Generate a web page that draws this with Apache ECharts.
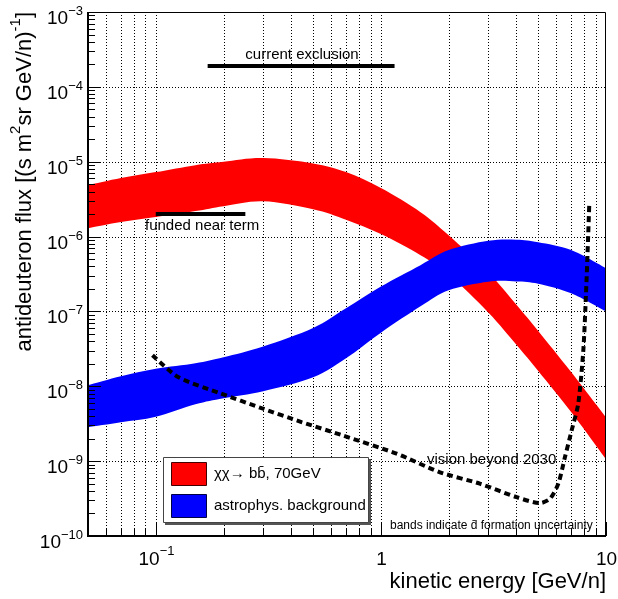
<!DOCTYPE html>
<html><head><meta charset="utf-8">
<script src="https://cdn.jsdelivr.net/npm/echarts@6/dist/echarts.min.js"></script>
<style>html,body{margin:0;padding:0;background:#fff}#c{width:618px;height:599px}</style>
</head><body><div id="c"></div>
<script>
// ---------------- data ----------------
const energies    = [0.05, 0.07, 0.1, 0.15, 0.2, 0.3, 0.5, 0.7, 1, 1.5, 2, 3, 4, 5, 7, 10];
const signalUpper = [4.86e-6, 6.04e-6, 7.26e-6, 9.0e-6, 1.0e-5, 1.12e-5, 9.5e-6, 7.26e-6, 4.44e-6, 2.12e-6, 1.04e-6, 3.32e-7, 1.23e-7, 5.48e-8, 1.55e-8, 3.85e-9];
const signalLower = [1.29e-6, 1.56e-6, 1.82e-6, 2.19e-6, 2.55e-6, 2.97e-6, 2.32e-6, 1.68e-6, 1.08e-6, 5.64e-7, 3.14e-7, 9.7e-8, 3.59e-8, 1.6e-8, 4.52e-9, 1.06e-9];
const bgUpper     = [1.03e-8, 1.36e-8, 1.71e-8, 2.03e-8, 2.44e-8, 3.4e-8, 6.0e-8, 1.1e-7, 2.15e-7, 4.15e-7, 6.6e-7, 8.8e-7, 9.1e-7, 8.4e-7, 6.6e-7, 3.78e-7];
const bgLower     = [2.83e-9, 3.3e-9, 3.91e-9, 5.74e-9, 6.92e-9, 8.6e-9, 1.32e-8, 2.37e-8, 5.2e-8, 1.17e-7, 1.92e-7, 2.5e-7, 2.52e-7, 2.35e-7, 1.75e-7, 1.0e-7];
const visionE     = [0.0967, 0.1256, 0.1925, 0.295, 0.444, 0.678, 1.174, 1.83, 2.75, 4.01, 5.09, 5.64, 6.14, 6.57, 7.04, 7.53, 7.93, 8.15, 8.32, 8.43];
const visionFlux  = [2.6e-8, 1.33e-8, 8.1e-9, 5.1e-9, 3.33e-9, 2.2e-9, 1.26e-9, 7.1e-10, 5.0e-10, 3.3e-10, 2.75e-10, 3.15e-10, 5.0e-10, 1.13e-9, 2.58e-9, 5.9e-9, 3.03e-8, 1.73e-7, 8.95e-7, 2.77e-6];
const exclusionE    = [0.17, 1.15];
const exclusionFlux = [1.9e-4, 1.9e-4];
const nearTermE     = [0.1, 0.25];
const nearTermFlux  = [2.0e-6, 2.0e-6];
const xDecades   = [0.01, 0.1, 1, 10];
const xMajorTicks = [0.1, 1, 10];
const xTickBase  = ['10', '1', '10'];
const xTickExp   = ['\u22121', '', ''];
const yMajorTicks = [1e-10, 1e-9, 1e-8, 1e-7, 1e-6, 1e-5, 1e-4, 1e-3];
const yTickBase  = ['10', '10', '10', '10', '10', '10', '10', '10'];
const yTickExp   = ['\u221210', '\u22129', '\u22128', '\u22127', '\u22126', '\u22125', '\u22124', '\u22123'];
const minorMult  = [2, 3, 4, 5, 6, 7, 8, 9];
// --------------------------------------

const FONT = '"Liberation Sans", Arial, Helvetica, sans-serif';
const xMin = 0.05, xMax = 10, yMin = 1e-10, yMax = 1e-3;

const xMinor = [];
xDecades.forEach(d => minorMult.forEach(m => { const v = m * d; if (v > xMin * 1.0001 && v < xMax * 0.9999) xMinor.push(v); }));
const yMinor = [];
yMajorTicks.forEach(d => minorMult.forEach(m => { const v = m * d; if (v > yMin && v < yMax * 0.9999) yMinor.push(v); }));

function crPath(pts, start) {
  let d = start ? 'M' + pts[0][0] + ' ' + pts[0][1] : 'L' + pts[0][0] + ' ' + pts[0][1];
  for (let i = 0; i < pts.length - 1; i++) {
    const p0 = pts[i - 1] || pts[i], p1 = pts[i], p2 = pts[i + 1], p3 = pts[i + 2] || p2;
    const c1 = [p1[0] + (p2[0] - p0[0]) / 6, p1[1] + (p2[1] - p0[1]) / 6];
    const c2 = [p2[0] - (p3[0] - p1[0]) / 6, p2[1] - (p3[1] - p1[1]) / 6];
    d += 'C' + c1[0] + ' ' + c1[1] + ' ' + c2[0] + ' ' + c2[1] + ' ' + p2[0] + ' ' + p2[1];
  }
  return d;
}

function band(name, upper, lower, color, z) {
  return {
    type: 'custom', name, z, silent: true, clip: true,
    data: [[1, 1e-6]],
    renderItem: (params, api) => {
      const top = energies.map((e, i) => api.coord([e, upper[i]]));
      const bot = energies.map((e, i) => api.coord([e, lower[i]])).reverse();
      return { type: 'path', shape: { pathData: crPath(top, true) + crPath(bot, false) + 'Z' },
               style: { fill: color, stroke: null } };
    }
  };
}

const richTick = {
  b: { fontSize: 19, fontFamily: FONT, lineHeight: 24, verticalAlign: 'bottom', fill: '#000' },
  s: { fontSize: 13, fontFamily: FONT, lineHeight: 13, verticalAlign: 'top', fill: '#000' }
};
function tickText(base, exp) { return exp ? '{b|' + base + '}{s|' + exp + '}' : '{b|' + base + '}'; }

const chart = echarts.init(document.getElementById('c'), null, { renderer: 'canvas' });
chart.setOption({
  animation: false,
  backgroundColor: '#fff',
  grid: { left: 88, top: 12, width: 518, height: 524, containLabel: false },
  xAxis: { type: 'log', logBase: 10, min: xMin, max: xMax,
    axisLine: { show: false }, axisTick: { show: false }, axisLabel: { show: false }, splitLine: { show: false } },
  yAxis: { type: 'log', logBase: 10, min: yMin, max: yMax,
    axisLine: { show: false }, axisTick: { show: false }, axisLabel: { show: false }, splitLine: { show: false } },
  series: [
    { // grid lines
      type: 'custom', z: 0, silent: true, data: [[1, 1e-6]],
      renderItem: (params, api) => {
        const lb = api.coord([xMin, yMin]), rt = api.coord([xMax, yMax]);
        const L = lb[0], B = lb[1], R = rt[0], T = rt[1];
        const ch = [];
        const st = { stroke: '#000', lineWidth: 1, lineDash: [1, 2] };
        xMinor.concat([0.1, 1]).forEach(v => {
          const x = Math.round(api.coord([v, yMin])[0]) + 0.5;
          ch.push({ type: 'line', shape: { x1: x, y1: T, x2: x, y2: B }, style: st });
        });
        yMajorTicks.slice(1, -1).forEach(v => {
          const y = Math.round(api.coord([xMin, v])[1]) + 0.5;
          ch.push({ type: 'line', shape: { x1: L, y1: y, x2: R, y2: y }, style: st });
        });
        return { type: 'group', children: ch };
      }
    },
    band('signal', signalUpper, signalLower, '#ff0000', 2),
    band('background', bgUpper, bgLower, '#0000ff', 3),
    { type: 'line', name: 'vision', z: 4, silent: true, symbol: 'none', smooth: 0.25,
      data: visionE.map((e, i) => [e, visionFlux[i]]),
      lineStyle: { color: '#000', width: 4, type: [6, 4], cap: 'butt' } },
    { type: 'line', name: 'exclusion', z: 4, silent: true, symbol: 'none',
      data: exclusionE.map((e, i) => [e, exclusionFlux[i]]),
      lineStyle: { color: '#000', width: 4, cap: 'butt' } },
    { type: 'line', name: 'nearterm', z: 4, silent: true, symbol: 'none',
      data: nearTermE.map((e, i) => [e, nearTermFlux[i]]),
      lineStyle: { color: '#000', width: 4, cap: 'butt' } },
    { // frame, ticks, tick labels
      type: 'custom', z: 10, silent: true, data: [[1, 1e-6]],
      renderItem: (params, api) => {
        const lb = api.coord([xMin, yMin]), rt = api.coord([xMax, yMax]);
        const L = lb[0], B = lb[1], R = rt[0], T = rt[1];
        const ch = [];
        ch.push({ type: 'rect', shape: { x: L + 0.5, y: T + 0.5, width: R - L - 1, height: B - T - 1 },
                  style: { fill: null, stroke: '#000', lineWidth: 1 } });
        ch.push({ type: 'line', shape: { x1: L, y1: T, x2: L, y2: B + 1 }, style: { stroke: '#000', lineWidth: 2 } });
        ch.push({ type: 'line', shape: { x1: L - 1, y1: B, x2: R, y2: B }, style: { stroke: '#000', lineWidth: 2 } });
        const tk = { stroke: '#000', lineWidth: 1 };
        yMinor.forEach(v => { const y = Math.round(api.coord([xMin, v])[1]) + 0.5;
          ch.push({ type: 'line', shape: { x1: L, y1: y, x2: L + 7, y2: y }, style: tk }); });
        yMajorTicks.forEach((v, i) => { const y = Math.round(api.coord([xMin, v])[1]) + 0.5;
          ch.push({ type: 'line', shape: { x1: L, y1: y, x2: L + 13, y2: y }, style: tk });
          ch.push({ type: 'text', x: L - 5, y: y + 4,
            style: { text: tickText(yTickBase[i], yTickExp[i]), rich: richTick, align: 'right', verticalAlign: 'middle' } }); });
        xMinor.forEach(v => { const x = Math.round(api.coord([v, yMin])[0]) + 0.5;
          ch.push({ type: 'line', shape: { x1: x, y1: B, x2: x, y2: B - 7 }, style: tk }); });
        xMajorTicks.forEach((v, i) => { const x = Math.round(api.coord([v, yMin])[0]) + 0.5;
          ch.push({ type: 'line', shape: { x1: x, y1: B, x2: x, y2: B - 14 }, style: tk });
          ch.push({ type: 'text', x: x, y: B + 9,
            style: { text: tickText(xTickBase[i], xTickExp[i]), rich: richTick, align: 'center', verticalAlign: 'top' } }); });
        return { type: 'group', children: ch };
      }
    }
  ],
  graphic: [
    { type: 'text', z: 100, x: 22, y: 12, rotation: Math.PI / 2,
      style: { text: '{m|antideuteron flux [(s m}{s|2}{m|sr GeV/n)}{s|-1}{m|]}',
        rich: { m: { fontSize: 22, fontFamily: FONT, lineHeight: 28, verticalAlign: 'bottom', fill: '#000' },
                s: { fontSize: 15, fontFamily: FONT, lineHeight: 15, verticalAlign: 'top', fill: '#000' } },
        align: 'right', verticalAlign: 'middle' } },
    { type: 'text', z: 100, x: 606, y: 582,
      style: { text: 'kinetic energy [GeV/n]', fontSize: 22, fontFamily: FONT, fill: '#000', align: 'right', verticalAlign: 'middle' } },
    { type: 'text', z: 100, x: 302, y: 55,
      style: { text: 'current exclusion', fontSize: 15, fontFamily: FONT, fill: '#000', align: 'center', verticalAlign: 'middle' } },
    { type: 'text', z: 100, x: 145, y: 226,
      style: { text: 'funded near term', fontSize: 15, fontFamily: FONT, fill: '#000', align: 'left', verticalAlign: 'middle' } },
    { type: 'text', z: 100, x: 427, y: 460,
      style: { text: 'vision beyond 2030', fontSize: 15, fontFamily: FONT, fill: '#000', align: 'left', verticalAlign: 'middle' } },
    { type: 'text', z: 100, x: 390, y: 526,
      style: { text: 'bands indicate d\u0304 formation uncertainty', fontSize: 12, fontFamily: FONT, fill: '#000', align: 'left', verticalAlign: 'middle' } },
    // legend
    { type: 'rect', z: 100, shape: { x: 165, y: 459, width: 206, height: 66 }, style: { fill: '#555' } },
    { type: 'rect', z: 101, shape: { x: 163.5, y: 457.5, width: 205, height: 65 }, style: { fill: '#fff', stroke: '#444', lineWidth: 1 } },
    { type: 'rect', z: 102, shape: { x: 171.5, y: 462.5, width: 35, height: 23 }, style: { fill: '#ff0000', stroke: '#400', lineWidth: 1 } },
    { type: 'rect', z: 102, shape: { x: 171.5, y: 494.5, width: 35, height: 23 }, style: { fill: '#0000ff', stroke: '#004', lineWidth: 1 } },
    { type: 'text', z: 102, x: 214, y: 474,
      style: { text: '\u03c7\u03c7\u2192 bb\u0304, 70GeV', fontSize: 15, fontFamily: FONT, fill: '#000', align: 'left', verticalAlign: 'middle' } },
    { type: 'text', z: 102, x: 214, y: 506,
      style: { text: 'astrophys. background', fontSize: 15, fontFamily: FONT, fill: '#000', align: 'left', verticalAlign: 'middle' } }
  ]
});
</script></body></html>
